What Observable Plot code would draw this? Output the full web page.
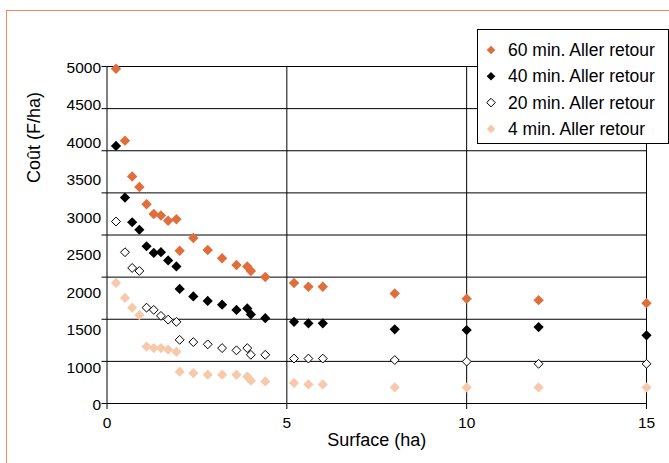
<!DOCTYPE html>
<html><head><meta charset="utf-8">
<script src="https://cdn.jsdelivr.net/npm/d3@7"></script>
<script src="https://cdn.jsdelivr.net/npm/@observablehq/plot@0.6"></script>
<style>
html,body{margin:0;padding:0;background:#fff;overflow:hidden;}
#wrap{position:relative;width:669px;height:463px;overflow:hidden;font-family:"Liberation Sans",Arial,sans-serif;}
#frame{position:absolute;left:6px;top:10px;width:700px;height:500px;border:1px solid #ee8b5f;box-sizing:border-box;}
#chart{position:absolute;left:0;top:0;}
#legend{position:absolute;left:477px;top:29px;}
</style></head><body>
<div id="wrap"><div id="frame"></div><div id="chart"></div><div id="legend"></div></div>
<script>
// ---- data ----
const surface = [0.25,0.5,0.7,0.9,1.1,1.3,1.5,1.7,1.93,2.02,2.4,2.8,3.2,3.6,3.9,4.0,4.4,5.2,5.6,6,8,10,12,15];
const cout60 = [4970,4010,3530,3390,3160,3030,3010,2940,2960,2540,2710,2550,2440,2350,2330,2270,2190,2110,2060,2060,1970,1900,1880,1840];
const cout40 = [3940,3250,2920,2820,2600,2510,2520,2410,2330,2030,1930,1870,1820,1750,1770,1690,1640,1590,1570,1570,1490,1480,1520,1410];
const cout20 = [2930,2520,2310,2270,1780,1750,1670,1620,1590,1350,1320,1290,1240,1210,1240,1150,1150,1100,1100,1100,1080,1060,1030,1030];
const cout4  = [2110,1910,1780,1680,1260,1240,1240,1220,1190,850,810,770,770,770,720,610,590,550,510,510,430,430,430,430];
const seriesNames = ["60 min. Aller retour","40 min. Aller retour","20 min. Aller retour","4 min. Aller retour"];
const yTicks = [0,1000,1500,2000,2500,3000,3500,4000,4500,5000];
const xTicks = [0,5,10,15];

// ---- styles ----
const seriesStyle = [
  {fill:"#df6e3c", stroke:"none", r:4.7},
  {fill:"#000000", stroke:"none", r:4.6},
  {fill:"#ffffff", stroke:"#000000", r:4.0},
  {fill:"#f6c9ab", stroke:"none", r:4.6}
];
const values = [cout60, cout40, cout20, cout4];
const table = values.map((vals, s) => surface.map((x, i) => ({surface: x, cout: vals[i], serie: seriesNames[s]})));

// the value axis is piecewise: its labels are evenly spaced
const toIndex = d3.scaleLinear().domain(yTicks).range(d3.range(yTicks.length));
const toValue = d3.scaleLinear().domain(d3.range(yTicks.length)).range(yTicks);
const gridCount = 8;
const yGrid = d3.range(gridCount + 1).map(i => toValue(i * (yTicks.length - 1) / gridCount));

const font = '"Liberation Sans", Arial, sans-serif';
const chart = Plot.plot({
  width: 669, height: 463,
  marginLeft: 106.5, marginRight: 23, marginTop: 66, marginBottom: 60,
  style: {fontFamily: font, fontSize: "15px", color: "#000", background: "transparent", overflow: "visible"},
  x: {domain: [0, 15]},
  y: {type: "linear", domain: [0, yTicks.length - 1], transform: v => toIndex(v)},
  marks: [
    Plot.ruleY(yGrid, {stroke: "#000", strokeWidth: 1}),
    Plot.ruleX(xTicks.slice(1), {stroke: "#000", strokeWidth: 1}),
    Plot.ruleX([0], {stroke: "#000", strokeWidth: 1}),
    Plot.axisY(yGrid, {anchor: "left", tickSize: 5, tickFormat: () => "", label: null}),
    Plot.axisY(yTicks, {anchor: "left", tickSize: 0, tickPadding: 6, fontSize: 15.5, dy: 1.5, label: null, tickFormat: d => String(d)}),
    Plot.axisX(xTicks, {anchor: "bottom", tickSize: 6, tickPadding: 7, fontSize: 15.5, label: null, tickFormat: d => String(d)}),
    ...[3, 2, 1, 0].map(s => Plot.dot(table[s], {
      x: "surface", y: "cout", symbol: "diamond2",
      r: seriesStyle[s].r, fill: seriesStyle[s].fill, stroke: seriesStyle[s].stroke, strokeWidth: 1
    })),
    Plot.text(["Surface (ha)"], {frameAnchor: "bottom", dy: 37, fontSize: 18, lineAnchor: "middle"}),
    Plot.text(["Coût (F/ha)"], {frameAnchor: "left", dx: -73, dy: -52, rotate: -90, fontSize: 18, lineAnchor: "middle"})
  ]
});
document.getElementById("chart").appendChild(chart);

// ---- legend ----
const lw = 191, lh = 114;
const leg = d3.select("#legend").append("svg").attr("width", lw + 2).attr("height", lh + 2)
  .style("font-family", font);
leg.append("rect").attr("x", 0.5).attr("y", 0.5).attr("width", lw).attr("height", lh)
  .attr("fill", "#fff").attr("stroke", "#000");
seriesNames.forEach((name, i) => {
  const cy = 21 + i * 26.3;
  const h = 4.3;
  leg.append("path")
    .attr("d", `M14,${cy - h}L${14 + h},${cy}L14,${cy + h}L${14 - h},${cy}Z`)
    .attr("fill", seriesStyle[i].fill)
    .attr("stroke", seriesStyle[i].stroke === "none" ? null : seriesStyle[i].stroke);
  leg.append("text").attr("x", 31).attr("y", cy).attr("dy", "0.35em")
    .attr("font-size", 17.5).text(name);
});
</script>
</body></html>
